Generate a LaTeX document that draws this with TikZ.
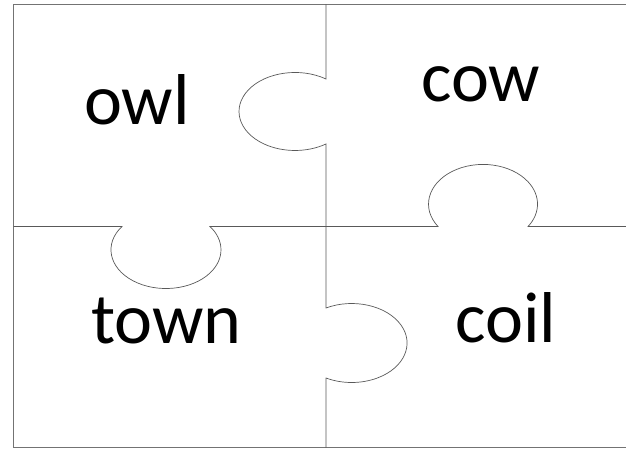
\documentclass[tikz,border=0pt]{standalone}
\usepackage{fontspec}
\setmainfont{Carlito}
\begin{document}
\begin{tikzpicture}[x=1pt, y=-1pt,
    edge/.style={draw=black!65, line width=.7pt},
    word/.style={font=\fontsize{72}{80}\selectfont, anchor=base west, inner sep=0pt}]
    \useasboundingbox (0,0) rectangle (626,449);
    \draw[black!55, line width=1.2pt] (630,4.5) -- (13.5,4.5) -- (13.5,447.5) -- (630,447.5);
    % vertical cut with its two knobs
    \draw[edge] (326,4.5) -- (326,79)
      arc[start angle=-56.4, end angle=-303.6, x radius=56, y radius=39] -- (326,308)
      arc[start angle=-117.6, end angle=117.6, x radius=55.4, y radius=39.5] -- (326,447.5);
    % horizontal cut with its two knobs
    \draw[edge] (13.5,226.5) -- (122,226.5)
      arc[start angle=-143.1, end angle=-396.9, x radius=55, y radius=38.75] -- (438,226.5)
      arc[start angle=145.7, end angle=394.3, x radius=54.5, y radius=39.7] -- (630,226.5);
    \foreach \w/\x/\y in {owl/84/125, cow/421/102, town/91/343, coil/455/342}
      \node[word] (\w) at (\x,\y) {\w};
\end{tikzpicture}
\end{document}
